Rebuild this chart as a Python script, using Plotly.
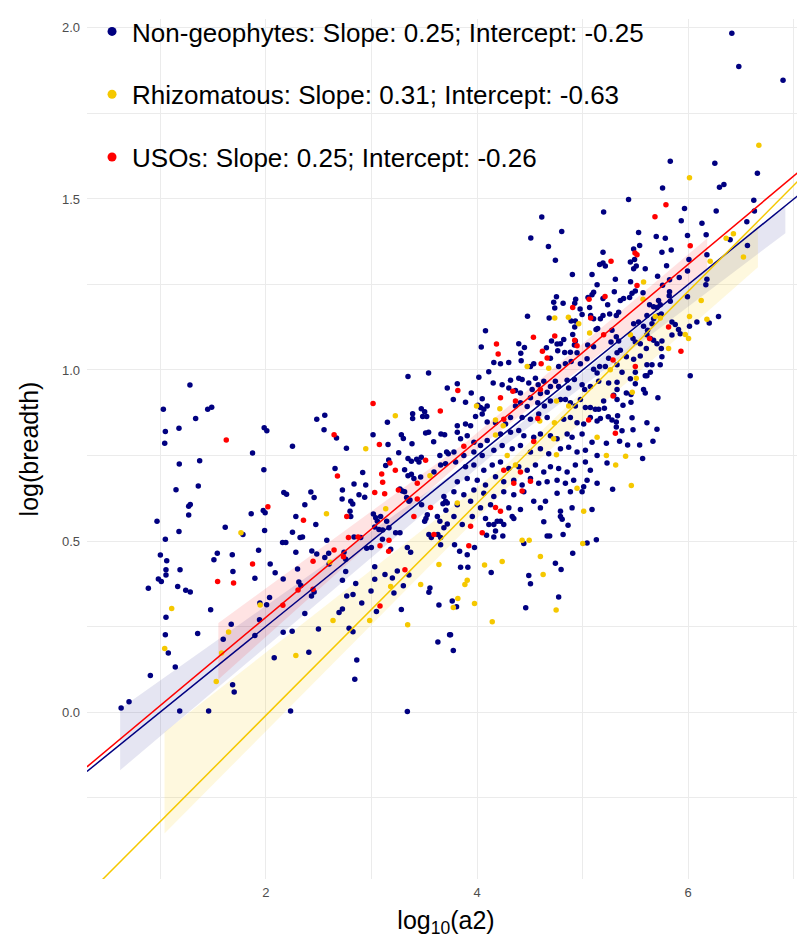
import plotly.graph_objects as go

# ---------------- data ----------------
navy_pts = [
(1.281,0.956),(1.029,0.885),(1.449,0.885),(1.487,0.891),(1.335,0.858),(1.177,0.830),(1.048,0.820),(1.984,0.831),(2.009,0.822),(1.042,0.786),(2.252,0.777),(1.874,0.757),(1.180,0.725),(1.373,0.735),(1.981,0.708),(1.149,0.650),(1.360,0.661),(2.170,0.642),(2.196,0.637),(1.284,0.607),(1.269,0.602),(1.269,0.576),(0.969,0.558),(1.861,0.580),(1.975,0.589),(1.993,0.583),(2.284,0.572),(1.615,0.540),(1.177,0.528),(1.988,0.531),(2.252,0.526),(1.783,0.519),(1.048,0.505),(2.158,0.496),(2.189,0.496),(2.324,0.510),(1.931,0.473),(2.284,0.467),(1.001,0.459),(1.061,0.442),(1.540,0.464),(1.508,0.445),(1.682,0.460),(2.041,0.433),
(1.054,0.416),(1.054,0.401),(1.187,0.416),(0.982,0.389),(1.010,0.382),(0.887,0.362),(1.165,0.367),(1.241,0.356),(1.284,0.351),(1.688,0.411),(1.896,0.391),(2.088,0.407),(2.164,0.389),(2.300,0.418),(2.312,0.380),(1.477,0.299),(1.943,0.319),(2.007,0.314),(2.035,0.335),(1.054,0.277),(1.672,0.257),(1.940,0.270),(1.048,0.226),(1.354,0.230),(1.596,0.213),(1.896,0.224),(2.164,0.233),(2.249,0.236),(1.076,0.173),(1.142,0.132),(2.079,0.159),(0.906,0.107),(1.685,0.080),(1.700,0.059),(0.704,0.030),(0.629,0.012),(1.184,0.003),(1.458,0.003),(2.234,0.003),
(3.346,0.981),(3.541,0.991),(3.718,0.947),(2.482,0.856),(2.558,0.868),(2.551,0.825),(3.151,0.847),(3.390,0.872),(3.390,0.858),(3.472,0.887),(3.504,0.878),(3.485,0.864),(3.523,0.864),(2.669,0.801),(3.015,0.811),(3.283,0.811),(3.302,0.800),(3.513,0.816),(3.541,0.818),(3.658,0.813),(3.693,0.811),(3.589,0.790),(2.763,0.771),(3.157,0.782),(3.384,0.784),(3.258,0.758),(3.648,0.750),(3.712,0.760),(3.728,0.755),(3.163,0.737),(3.135,0.721),(3.346,0.741),(3.378,0.733),(3.428,0.739),(3.450,0.731),(3.472,0.745),(2.655,0.712),(2.917,0.700),(3.314,0.708),(3.346,0.691),(3.378,0.695),(3.402,0.683),(3.466,0.687),(3.592,0.702),(3.655,0.722),(3.702,0.726),(2.835,0.667),(2.946,0.664),(2.725,0.649),(2.426,0.643),(2.457,0.627),(2.882,0.635),(2.936,0.628),(2.722,0.623),(2.804,0.616),(2.823,0.608),(3.270,0.652),(3.293,0.646),(3.314,0.644),(3.333,0.627),(3.365,0.620),(3.355,0.616),(3.686,0.630),(3.702,0.616),(3.677,0.609),(3.718,0.611),(3.475,0.606),(2.369,0.606),(3.705,0.590),(2.797,0.587),(2.804,0.572),(3.018,0.579),(3.040,0.568),(3.087,0.572),(3.056,0.558),(3.144,0.558),(3.529,0.577),(3.516,0.566),(3.504,0.558),(3.624,0.572),(3.648,0.558),(2.473,0.548),(3.031,0.541),(3.071,0.534),(3.106,0.532),(3.166,0.539),(3.544,0.519),(3.567,0.510),(3.629,0.519),(3.655,0.510),(3.686,0.539),(3.718,0.550),(2.347,0.512),(2.577,0.502),(2.835,0.512),(2.898,0.510),(3.229,0.524),(3.270,0.524),(3.104,0.505),
(2.435,0.471),(2.482,0.462),(2.558,0.452),(2.595,0.464),(2.740,0.467),(2.756,0.447),(2.955,0.479),(2.999,0.481),(3.182,0.476),(3.340,0.481),(3.371,0.467),(3.655,0.489),(2.599,0.433),(3.031,0.425),(2.756,0.411),(3.128,0.402),(3.198,0.392),(3.245,0.412),(3.355,0.401),(2.725,0.385),(3.031,0.388),(2.851,0.376),(2.331,0.370),(3.302,0.369),(3.554,0.363),(3.544,0.350),(2.457,0.351),(2.432,0.339),(2.766,0.339),(2.825,0.344),(2.996,0.354),(3.213,0.348),(2.908,0.319),(3.639,0.313),(2.725,0.301),(2.693,0.291),(3.047,0.294),(3.283,0.300),(2.369,0.288),(2.498,0.243),(2.788,0.245),(2.825,0.235),(3.740,0.226),(3.629,0.205),(2.407,0.175),(2.861,0.152),(2.842,0.096),(3.340,0.002),
(4.613,1.447),(4.802,1.405),(4.509,1.386),(4.676,1.361),(4.742,1.321),(4.903,1.279),(5.089,1.279),(5.161,1.308),(5.137,1.249),(5.104,1.227),(5.089,1.220),(4.752,1.214),(4.726,1.198),(4.736,1.181),(4.815,1.195),(4.934,1.207),(4.925,1.195),(5.051,1.212),(5.066,1.183),(4.976,1.178),(4.995,1.162),(5.076,1.159),(5.104,1.150),(4.478,1.157),(4.683,1.152),(4.931,1.143),(4.925,1.126),(4.891,1.143),(4.080,1.115),(5.127,1.118),(5.142,1.121),(4.906,1.104),(4.931,1.085),(4.922,1.073),(4.821,1.089),(4.790,1.077),(4.758,1.076),(4.705,1.085),(4.395,1.077),(4.449,1.066),(4.040,1.067),(4.414,1.049),(4.657,1.065),(4.764,1.056),(4.830,1.051),(4.884,1.052),(4.947,1.050),(5.048,1.073),(5.104,1.068),
(4.159,1.022),(4.222,1.018),(4.300,1.022),(4.418,1.027),(4.506,1.010),(4.537,1.018),(4.695,1.034),(4.773,1.010),(4.837,1.018),(4.891,1.025),(4.979,1.018),(5.042,1.033),(5.104,1.002),(5.137,0.991),(5.161,1.010),
(4.017,0.979),(4.111,0.995),(4.317,0.970),(4.395,0.976),(4.427,0.972),(4.490,0.962),(4.553,0.976),(4.579,0.957),(4.632,0.967),(4.695,0.952),(4.742,0.967),(4.773,0.952),(4.853,0.970),(4.868,0.947),(4.922,0.972),(4.995,0.957),(5.019,0.943),(5.073,0.952),(5.152,0.967),(3.813,0.960),(4.153,0.962),(4.238,0.957),(4.301,0.947),(4.364,0.940),(4.411,0.933),(4.522,0.943),(4.600,0.931),(4.664,0.935),
(3.775,0.914),(3.891,0.906),(3.945,0.933),(4.049,0.916),(4.008,0.897),(4.033,0.890),(4.064,0.885),(4.096,0.895),(4.364,0.895),(4.411,0.904),(4.475,0.893),(4.506,0.919),(4.575,0.904),(4.638,0.895),(4.695,0.909),(4.790,0.914),(4.837,0.914),(4.884,0.904),(4.931,0.895),(4.979,0.914),(5.026,0.890),(5.073,0.890),(5.120,0.885),(5.152,0.885),(3.813,0.837),(3.891,0.842),(3.939,0.837),(3.986,0.864),(4.049,0.871),(4.096,0.848),(4.175,0.846),(4.270,0.842),(4.317,0.861),(4.427,0.861),(4.506,0.856),(4.584,0.871),(4.664,0.861),(4.821,0.856),(4.884,0.861),(4.947,0.846),(5.010,0.842),(5.073,0.861),(5.137,0.851),
(3.813,0.818),(3.844,0.799),(3.907,0.808),(3.970,0.789),(4.033,0.779),(4.096,0.794),(4.222,0.813),(4.317,0.818),(4.395,0.823),(4.443,0.808),(4.537,0.803),(4.600,0.813),(4.695,0.808),(4.758,0.799),(4.853,0.813),(4.900,0.803),(4.995,0.813),(5.089,0.789),(3.781,0.760),(3.875,0.750),(3.970,0.760),(4.049,0.750),(4.159,0.765),(4.238,0.779),(4.333,0.770),(4.411,0.779),(4.506,0.760),(4.600,0.770),(4.679,0.755),(4.790,0.770),(4.868,0.774),(4.947,0.760),(5.026,0.765),(5.137,0.750),
(3.797,0.731),(3.891,0.717),(3.970,0.722),(4.064,0.707),(4.144,0.722),(4.222,0.731),(4.301,0.712),(4.395,0.717),(4.475,0.707),(4.553,0.722),(4.632,0.702),(4.695,0.717),(4.773,0.712),(4.853,0.702),(4.931,0.722),(5.026,0.731),(5.073,0.707),(3.813,0.673),(3.907,0.683),(4.002,0.678),(4.080,0.664),(4.175,0.688),(4.253,0.673),(4.348,0.678),(4.427,0.664),(4.506,0.683),(4.584,0.669),(4.664,0.673),(4.758,0.678),(4.837,0.669),(4.915,0.678),(5.010,0.659),(5.042,0.678),(5.137,0.669),
(3.781,0.644),(3.875,0.635),(3.970,0.649),(4.064,0.640),(4.159,0.630),(4.253,0.644),(4.348,0.635),(4.443,0.644),(4.537,0.616),(4.648,0.616),(4.758,0.640),(4.884,0.644),(4.900,0.597),(4.995,0.644),(5.089,0.592),(3.813,0.606),(3.939,0.616),(4.033,0.597),(4.128,0.606),(4.301,0.597),(4.411,0.592),(4.600,0.597),(4.790,0.587),
(3.781,0.572),(3.860,0.548),(3.955,0.572),(4.080,0.566),(4.112,0.548),(4.159,0.548),(4.191,0.558),(4.222,0.558),(4.253,0.548),(4.090,0.517),(4.159,0.512),(4.175,0.529),(4.244,0.515),(4.333,0.572),(4.348,0.566),(4.632,0.556),(4.790,0.572),(4.806,0.564),(4.862,0.546),(4.664,0.515),(4.688,0.515),(4.815,0.519),(4.443,0.493),(5.042,0.494),(5.130,0.504),(3.787,0.489),(3.835,0.470),(3.907,0.460),(3.976,0.481),(3.844,0.423),(3.913,0.423),(4.134,0.408),(4.490,0.399),(4.506,0.375),(4.742,0.435),(4.796,0.417),(4.906,0.464),(4.773,0.336),(4.461,0.305),(3.765,0.325),(3.806,0.308),(3.749,0.226),(3.775,0.180),
(6.413,1.984),(6.479,1.887),(6.898,1.847),(5.830,1.610),(6.252,1.604),(6.655,1.575),(5.757,1.532),(6.296,1.534),(6.338,1.542),
(5.435,1.498),(5.199,1.462),(5.965,1.472),(6.265,1.465),(6.621,1.496),(6.627,1.465),(5.934,1.436),(6.130,1.429),(6.555,1.433),(5.530,1.402),(5.697,1.390),(5.783,1.385),(5.993,1.393),(6.170,1.395),(6.397,1.381),(5.540,1.364),(5.483,1.354),(5.751,1.344),(5.839,1.351),(5.193,1.344),(6.561,1.364),(6.177,1.337),(5.452,1.316),(5.492,1.323),(5.483,1.296),(5.508,1.304),(5.193,1.313),(5.215,1.304),(5.795,1.305),(6.007,1.323),(5.593,1.296),(5.993,1.289),(5.310,1.265),(5.454,1.258),(5.710,1.274),(5.915,1.270),(5.823,1.264),(5.757,1.248),(6.177,1.265),(6.167,1.249),(5.300,1.229),(5.388,1.209),(5.468,1.224),(5.499,1.231),(5.445,1.212),(5.357,1.203),(5.237,1.191),(5.193,1.209),(5.572,1.226),(5.823,1.229),(5.820,1.217),(5.719,1.203),(5.993,1.214),(5.634,1.191),(5.704,1.183),(5.735,1.191),(5.672,1.185),(5.830,1.201),(5.256,1.164),(5.319,1.159),(5.341,1.169),(5.193,1.159),(5.168,1.150),(5.483,1.135),(5.530,1.140),(5.609,1.159),(5.672,1.150),(5.719,1.159),(5.745,1.164),(5.577,1.128),(5.615,1.116),(5.657,1.135),(5.846,1.140),(5.877,1.133),(5.908,1.118),(6.012,1.128),(6.082,1.140),(6.199,1.137),(6.287,1.156),(5.278,1.116),(5.319,1.097),(5.341,1.085),(5.269,1.082),(5.477,1.092),(5.499,1.082),(5.546,1.077),(5.609,1.103),(5.641,1.092),(5.672,1.087),(5.704,1.077),(5.751,1.085),(5.846,1.102),(5.924,1.106),
(5.326,1.050),(5.357,1.058),(5.414,1.039),(5.483,1.031),(5.546,1.041),(5.603,1.063),(5.751,1.039),(5.745,1.063),(5.609,1.015),(5.657,1.015),(5.735,1.015),(5.609,0.983),(5.641,0.993),(5.593,0.983),(6.019,0.983),(5.246,1.034),(5.215,1.010),(5.326,1.015),(5.373,0.993),(5.246,0.962),(5.326,0.964),(5.326,0.943),(5.452,0.974),(5.499,0.960),(5.499,0.993),(5.294,0.926),(5.326,0.914),(5.199,0.909),(5.206,0.888),(5.414,0.933),(5.458,0.928),(5.458,0.906),(5.577,0.943),(5.593,0.933),(5.713,0.919),(5.382,0.897),(5.243,0.863),(5.278,0.854),(5.331,0.866),(5.319,0.848),(5.319,0.833),(5.373,0.822),(5.468,0.860),(5.609,0.846),(5.477,0.825),(5.704,0.827),(5.225,0.786),(5.350,0.792),(5.426,0.781),(5.540,0.781),(5.666,0.792),(5.231,0.728),(5.568,0.741),(5.284,0.651),(5.168,0.858),
]

rhizo_pts = [
(1.764,0.524),(1.108,0.303),(1.647,0.234),(1.042,0.186),(1.581,0.173),(1.530,0.089),(2.284,0.165),(1.946,0.313),
(3.226,0.866),(2.946,0.770),(3.554,0.691),(2.574,0.580),(3.135,0.594),
(2.608,0.438),(3.639,0.431),(3.182,0.367),(3.466,0.373),(2.636,0.268),(2.983,0.268),(3.343,0.255),
(4.736,1.152),(4.865,1.154),(4.963,1.135),(5.066,1.108),
(4.475,1.010),(4.679,1.005),(3.995,0.895),(4.216,0.887),(4.752,0.909),(4.868,0.895),(4.594,0.851),(4.175,0.854),(4.248,0.837),(4.175,0.810),(5.137,0.803),(4.733,0.846),(4.286,0.750),(4.752,0.752),(4.726,0.799),(4.364,0.722),(4.947,0.654),(3.813,0.611),(5.010,0.587),
(4.427,0.502),(4.494,0.502),(5.001,0.493),(4.071,0.430),(4.238,0.440),(4.600,0.455),(4.626,0.402),(3.907,0.385),(3.885,0.373),(3.818,0.332),(3.976,0.317),(3.775,0.306),(4.749,0.298),(4.144,0.264),
(6.669,1.657),(6.012,1.562),
(5.577,1.257),(6.208,1.318),(6.359,1.385),(6.428,1.398),(6.523,1.330),(5.572,1.207),(6.123,1.203),(6.012,1.156),(6.177,1.148),(5.688,1.156),(5.735,1.152),(5.972,1.104),(6.003,1.092),(5.452,1.103),
(5.814,1.063),(5.508,0.976),(5.470,0.935),(5.262,1.001),(5.225,0.750),(5.407,0.748),(5.313,0.722),(5.461,0.662),
]

uso_pts = [
(1.625,0.795),(2.019,0.600),(1.874,0.433),
(1.543,0.382),(1.694,0.377),(2.161,0.312),(2.305,0.357),
(3.015,0.902),(3.652,0.880),(2.646,0.811),(3.075,0.782),(3.513,0.736),(3.175,0.728),(3.226,0.707),(2.678,0.690),(3.097,0.696),(3.106,0.672),(3.434,0.669),(3.031,0.642),(3.125,0.638),(3.255,0.649),(3.434,0.623),(3.560,0.598),(2.356,0.561),(2.766,0.572),(3.402,0.572),(2.782,0.510),(2.873,0.512),(3.166,0.502),(3.592,0.519),
(2.646,0.474),(2.447,0.441),(2.735,0.454),(3.081,0.486),(3.163,0.470),(3.317,0.416),(2.447,0.359),(3.081,0.310),
(4.906,1.183),(5.061,1.207),(5.076,1.152),(4.736,1.099),(4.534,1.096),(4.184,1.076),(4.200,1.047),(4.619,1.055),(4.925,1.087),(4.947,1.071),
(4.607,1.018),(4.664,1.035),(3.818,0.940),(4.222,0.919),(4.339,0.938),(4.364,0.909),(4.600,0.943),(5.057,0.854),(4.575,0.858),(4.253,0.856),(3.875,0.777),(4.537,0.791),(4.253,0.707),(4.411,0.702),(4.348,0.669),(4.506,0.675),(4.175,0.598),(4.222,0.587),(4.427,0.646),
(3.939,0.543),(4.049,0.524),(3.922,0.486),
(5.789,1.483),(5.685,1.448),(6.019,1.363),(5.496,1.342),(5.515,1.337),(5.269,1.318),(5.515,1.247),(5.212,1.215),(5.199,1.103),(5.814,1.126),(5.634,1.092),
(5.931,1.055),(5.499,1.010),(5.288,1.029),(5.288,0.924),(5.310,0.815),
]

groups = ["Non-geophytes", "Rhizomatous", "USOs"]
label_slopes = [0.25, 0.31, 0.25]
label_intercepts = [-0.25, -0.63, -0.26]
# fitted lines as drawn in the picture
line_slopes = [0.25, 0.31, 0.258]
line_intercepts = [-0.25, -0.63, -0.239]
# confidence ribbons (read at a few x positions)
ribbon_x = [[0.62, 4.2, 6.92], [1.04, 4.3, 6.66], [1.55, 3.9, 6.18]]
ribbon_lo = [[-0.17, 0.765, 1.40], [-0.355, 0.66, 1.30], [0.095, 0.745, 1.29]]
ribbon_hi = [[0.01, 0.79, 1.48], [-0.058, 0.73, 1.43], [0.26, 0.79, 1.385]]

colors = ["#000080", "#F5C800", "#FF0000"]
fills = ["rgba(0,0,128,0.10)", "rgba(245,200,0,0.13)", "rgba(255,0,0,0.11)"]
x_range = [0.306, 7.106]
y_range = [-0.488, 2.026]

# ---------------- figure ----------------
fig = go.Figure()
for i in range(3):
    rx = ribbon_x[i] + ribbon_x[i][::-1]
    ry = ribbon_hi[i] + ribbon_lo[i][::-1]
    fig.add_trace(go.Scatter(x=rx, y=ry, fill="toself", fillcolor=fills[i],
                             mode="lines", line=dict(width=0), hoverinfo="skip",
                             showlegend=False))

for pts, c in [(navy_pts, colors[0]), (rhizo_pts, colors[1]), (uso_pts, colors[2])]:
    fig.add_trace(go.Scatter(x=[p[0] for p in pts], y=[p[1] for p in pts],
                             mode="markers", marker=dict(size=5.5, color=c, line=dict(width=0)),
                             showlegend=False))

for i in range(3):
    xs = x_range
    ys = [line_intercepts[i] + line_slopes[i] * v for v in xs]
    fig.add_trace(go.Scatter(x=xs, y=ys, mode="lines", line=dict(color=colors[i], width=1.5),
                             hoverinfo="skip", showlegend=False))

for i in range(3):
    name = f"{groups[i]}: Slope: {label_slopes[i]:.2f}; Intercept: {label_intercepts[i]:.2f}"
    fig.add_trace(go.Scatter(x=[None], y=[None], mode="markers", name=name,
                             legendgroup=groups[i],
                             marker=dict(size=9, color=colors[i])))

grid = "#EBEBEB"
fig.update_layout(
    width=797, height=932,
    margin=dict(l=79, r=0, t=0, b=61),
    paper_bgcolor="white", plot_bgcolor="white",
    font=dict(family="Liberation Sans, Arial, sans-serif"),
    legend=dict(x=0.007, y=1.013, xanchor="left", yanchor="top",
                font=dict(size=26, color="black"), bgcolor="rgba(0,0,0,0)",
                tracegroupgap=26, itemsizing="trace"),
    xaxis=dict(range=x_range, tickvals=[2, 4, 6], showgrid=True, gridcolor=grid, gridwidth=1.3,
               minor=dict(tickvals=[1, 3, 5, 7], showgrid=True, gridcolor=grid, gridwidth=0.7),
               zeroline=False, showline=False, ticks="", automargin=False,
               tickfont=dict(size=13, color="#4D4D4D"), ticklabelstandoff=4,
               title=dict(text="log<sub>10</sub>(a2)", font=dict(size=25, color="black"), standoff=12)),
    yaxis=dict(range=y_range, tickvals=[0, 0.5, 1, 1.5, 2], ticktext=["0.0", "0.5", "1.0", "1.5", "2.0"],
               showgrid=True, gridcolor=grid, gridwidth=1.3,
               minor=dict(tickvals=[-0.25, 0.25, 0.75, 1.25, 1.75], showgrid=True, gridcolor=grid, gridwidth=0.7),
               zeroline=False, showline=False, ticks="", automargin=False,
               tickfont=dict(size=13, color="#4D4D4D"), ticklabelstandoff=6,
               title=dict(text="log(breadth)", font=dict(size=25, color="black"), standoff=16)),
)

fig.write_html("out.html")
